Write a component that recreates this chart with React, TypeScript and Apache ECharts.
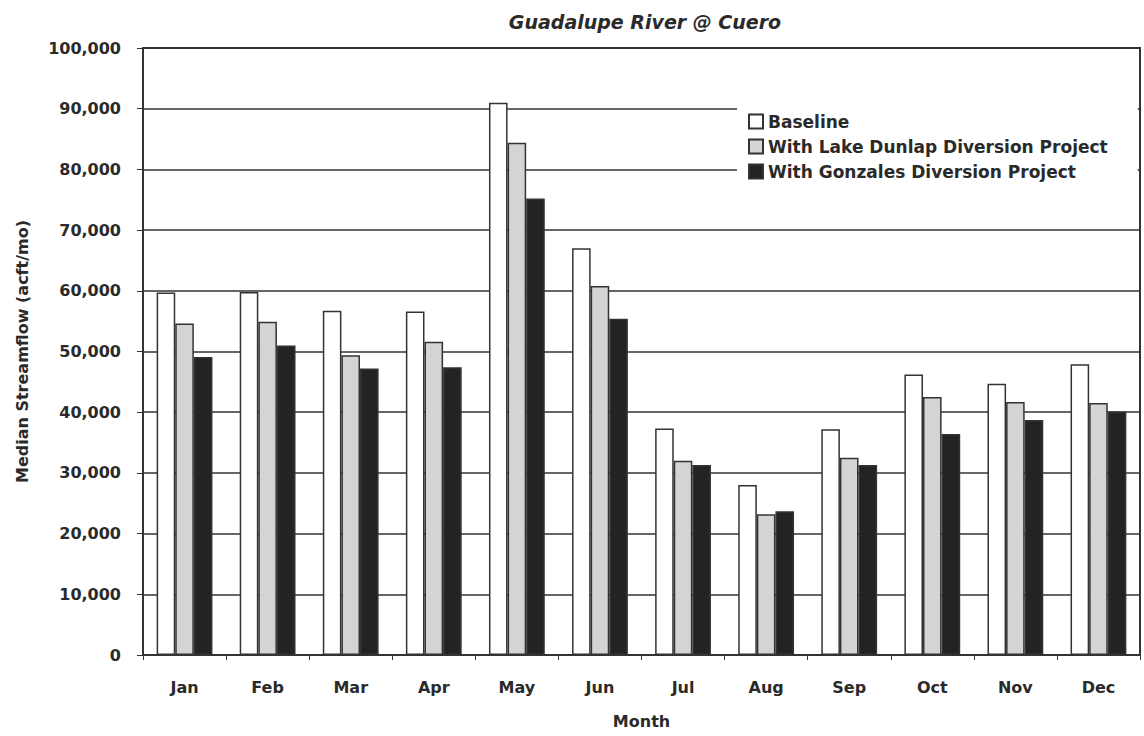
import React, { useEffect, useRef } from "react";
import * as echarts from "echarts";

const months = ["Jan", "Feb", "Mar", "Apr", "May", "Jun", "Jul", "Aug", "Sep", "Oct", "Nov", "Dec"];
const baseline = [59700, 59800, 56700, 56600, 91000, 67000, 37300, 28000, 37200, 46200, 44700, 47900];
const lakeDunlap = [54600, 54900, 49400, 51600, 84400, 60800, 32000, 23200, 32500, 42500, 41700, 41500];
const gonzales = [49100, 51000, 47200, 47400, 75200, 55400, 31300, 23700, 31300, 36400, 38700, 40100];
const yTicks = { min: 0, max: 100000, interval: 10000 };

const FONT = "'DejaVu Sans', Verdana, sans-serif";
const TEXT = "#2a2a2a";
const LINE = "#333";

export default function App() {
  const ref = useRef<HTMLDivElement>(null);
  useEffect(() => {
    if (!ref.current) return;
    const chart = echarts.init(ref.current, null, { renderer: "svg" });
    const barStyle = (color: string) => ({
      color,
      borderColor: LINE,
      borderWidth: 1.5,
    });
    chart.setOption({
      animation: false,
      backgroundColor: "#fff",
      textStyle: { fontFamily: FONT },
      title: {
        text: "Guadalupe River @ Cuero",
        left: 640,
        textAlign: "center",
        top: 7,
        textStyle: {
          fontFamily: FONT,
          fontSize: 19,
          fontWeight: "bold",
          fontStyle: "italic",
          color: TEXT,
        },
      },
      legend: {
        orient: "vertical",
        left: 737,
        top: 104,
        itemWidth: 14,
        itemHeight: 14,
        itemGap: 8,
        backgroundColor: "#fff",
        padding: [9, 30, 22, 11],
        textStyle: { fontFamily: FONT, fontSize: 17, fontWeight: "bold", color: TEXT },
        data: [
          { name: "Baseline", icon: "rect" },
          { name: "With Lake Dunlap Diversion Project", icon: "rect" },
          { name: "With Gonzales Diversion Project", icon: "rect" },
        ],
      },
      grid: {
        left: 143,
        top: 48,
        width: 997,
        height: 607,
        show: true,
        borderColor: LINE,
        borderWidth: 2,
        backgroundColor: "transparent",
      },
      xAxis: {
        type: "category",
        data: months,
        name: "Month",
        nameLocation: "middle",
        nameGap: 58,
        nameTextStyle: { fontFamily: FONT, fontSize: 16, fontWeight: "bold", color: TEXT },
        axisLine: { lineStyle: { color: LINE, width: 2 } },
        axisTick: { show: true, alignWithLabel: false, length: 5, lineStyle: { color: LINE } },
        axisLabel: { margin: 24, fontFamily: FONT, fontSize: 16, fontWeight: "bold", color: TEXT },
      },
      yAxis: {
        type: "value",
        min: yTicks.min,
        max: yTicks.max,
        interval: yTicks.interval,
        name: "Median Streamflow (acft/mo)",
        nameLocation: "middle",
        nameGap: 113,
        nameTextStyle: { fontFamily: FONT, fontSize: 16, fontWeight: "bold", color: TEXT },
        axisLine: { show: true, lineStyle: { color: LINE, width: 2 } },
        axisTick: { show: true, length: 6, lineStyle: { color: LINE } },
        splitLine: { show: true, lineStyle: { color: LINE, width: 1.5 } },
        axisLabel: {
          margin: 22,
          fontFamily: FONT,
          fontSize: 16,
          fontWeight: "bold",
          color: TEXT,
          formatter: (v: number) => v.toLocaleString("en-US"),
        },
      },
      series: [
        {
          name: "Baseline",
          type: "bar",
          data: baseline,
          barWidth: 18.6,
          barGap: "0%",
          itemStyle: barStyle("#ffffff"),
        },
        {
          name: "With Lake Dunlap Diversion Project",
          type: "bar",
          data: lakeDunlap,
          barWidth: 18.6,
          barGap: "0%",
          itemStyle: barStyle("#d4d4d4"),
        },
        {
          name: "With Gonzales Diversion Project",
          type: "bar",
          data: gonzales,
          barWidth: 18.6,
          barGap: "0%",
          itemStyle: barStyle("#232323"),
        },
      ],
    });
    return () => chart.dispose();
  }, []);
  return (
    <div
      ref={ref}
      style={{ position: "fixed", left: 0, top: 0, width: 1144, height: 736, background: "#fff" }}
    />
  );
}
